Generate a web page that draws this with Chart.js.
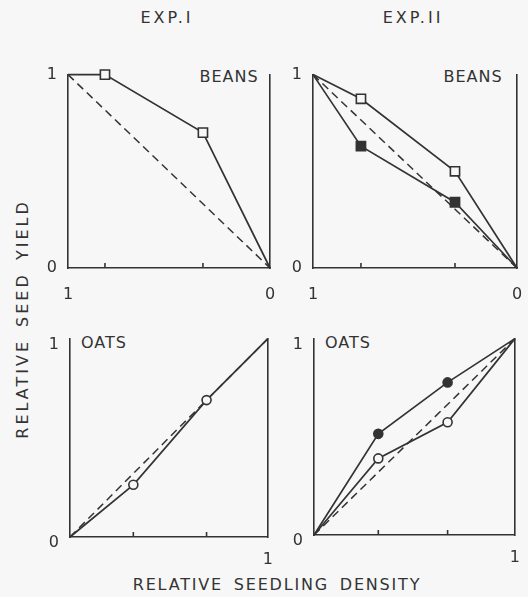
<!DOCTYPE html>
<html>
<head>
<meta charset="utf-8">
<title>Relative seed yield</title>
<script src="https://cdn.jsdelivr.net/npm/chart.js@4/dist/chart.umd.min.js"></script>
<style>
  body { margin: 0; background: #f7f7f7; width: 528px; height: 597px; position: relative; overflow: hidden;
         font-family: "DejaVu Sans", sans-serif; color: #333; }
  .box { position: absolute; }
  .lbl { position: absolute; font-size: 16px; letter-spacing: 1px; white-space: nowrap; line-height: 1;
         transform: translate(-50%, -50%); }
</style>
</head>
<body>
<div class="lbl" style="left:167px; top:18px; letter-spacing:3px;">EXP.I</div>
<div class="lbl" style="left:413px; top:18px; letter-spacing:3px;">EXP.II</div>
<div class="lbl" style="left:229px; top:77px;">BEANS</div>
<div class="lbl" style="left:473px; top:77px;">BEANS</div>
<div class="lbl" style="left:104px; top:343px;">OATS</div>
<div class="lbl" style="left:348px; top:343px;">OATS</div>
<div class="lbl" style="left:23px; top:319px; transform: translate(-50%, -50%) rotate(-90deg); letter-spacing:3px; word-spacing:4px;">RELATIVE SEED YIELD</div>
<div class="lbl" style="left:277px; top:585px; letter-spacing:1.8px; word-spacing:4px;">RELATIVE SEEDLING DENSITY</div>

<div class="box" id="p1"><canvas id="c1"></canvas></div>
<div class="box" id="p2"><canvas id="c2"></canvas></div>
<div class="box" id="p3"><canvas id="c3"></canvas></div>
<div class="box" id="p4"><canvas id="c4"></canvas></div>

<script>
// relative seedling density (x) and relative seed yield (y)
const beans1X = [1, 0.817, 0.332, 0];
const beans1Open = [1, 1.0, 0.70, 0];

const beans2X = [1, 0.765, 0.304, 0];
const beans2Open = [1, 0.875, 0.50, 0];
const beans2Filled = [1, 0.63, 0.34, 0];

const oats1X = [0, 0.32, 0.69, 1];
const oats1Open = [0, 0.263, 0.69, 1];

const oats2X = [0, 0.32, 0.665, 1];
const oats2Filled = [0, 0.515, 0.777, 1];
const oats2Open = [0, 0.39, 0.574, 1];

const ink = '#333';
const bg = '#f7f7f7';
const tickFont = { family: 'DejaVu Sans', size: 16 };

const pts = (xs, ys) => xs.map((x, i) => ({ x: x, y: ys[i] }));

// marker only on interior points, the end points sit on the corners
const markerSize = r => ctx => (ctx.dataIndex === 0 || ctx.dataIndex === 3) ? 0 : r;

function serie(xs, ys, style, filled) {
    const r = style === 'rect' ? 6.5 : 4.5;
    return {
        data: pts(xs, ys),
        showLine: true,
        borderColor: ink,
        borderWidth: 1.7,
        pointStyle: style,
        pointRadius: markerSize(r),
        pointBackgroundColor: filled ? ink : bg,
        pointBorderColor: ink,
        pointBorderWidth: 1.6,
        clip: false
    };
}

function diagonal(xs) {
    return {
        data: [{ x: xs[0], y: xs[0] }, { x: xs[3], y: xs[3] }],
        showLine: true,
        borderColor: ink,
        borderWidth: 1.5,
        borderDash: [8, 5],
        pointRadius: 0,
        clip: false
    };
}

// small tick marks standing inside the plot on the x axis
const innerTicks = {
    id: 'innerTicks',
    afterDraw(chart, args, opts) {
        const sx = chart.scales.x;
        const bottom = chart.chartArea.bottom;
        const ctx = chart.ctx;
        ctx.save();
        ctx.strokeStyle = ink;
        ctx.lineWidth = 1.6;
        opts.values.forEach(v => {
            const px = sx.getPixelForValue(v);
            ctx.beginPath();
            ctx.moveTo(px, bottom - 5);
            ctx.lineTo(px, bottom);
            ctx.stroke();
        });
        ctx.restore();
    }
};

function panel(id, canvasId, area, cfg) {
    const padL = 44, padR = 16, padT = 14, padB = 40;
    const wrap = document.getElementById(id);
    wrap.style.left = (area.l - padL) + 'px';
    wrap.style.top = (area.t - padT) + 'px';
    wrap.style.width = (area.r - area.l + padL + padR) + 'px';
    wrap.style.height = (area.b - area.t + padT + padB) + 'px';

    new Chart(document.getElementById(canvasId), {
        type: 'scatter',
        data: { datasets: cfg.datasets },
        options: {
            responsive: true,
            maintainAspectRatio: false,
            animation: false,
            layout: { padding: { top: padT, left: 0, right: 0, bottom: 0 } },
            plugins: {
                legend: { display: false },
                tooltip: { enabled: false },
                innerTicks: { values: cfg.tickValues }
            },
            scales: {
                x: {
                    type: 'linear',
                    position: 'bottom',
                    min: 0, max: 1,
                    reverse: cfg.reverse,
                    afterBuildTicks: s => { s.ticks = cfg.xLabels.map(v => ({ value: v })); },
                    afterFit: s => { s.height = padB; },
                    grid: { drawOnChartArea: false, drawTicks: false },
                    border: { color: ink, width: 1.6 },
                    ticks: { padding: cfg.xPad, color: ink, font: tickFont, maxRotation: 0, autoSkip: false,
                             callback: v => String(v) }
                },
                y: {
                    type: 'linear',
                    position: 'left',
                    min: 0, max: 1,
                    afterBuildTicks: s => { s.ticks = [{ value: 0 }, { value: 1 }]; },
                    afterFit: s => { s.width = padL; },
                    grid: { drawOnChartArea: false, drawTicks: false },
                    border: { color: ink, width: 1.6 },
                    ticks: { padding: 11, color: ink, font: tickFont, labelOffset: cfg.yOff,
                             callback: v => String(v) }
                },
                y2: {
                    type: 'linear',
                    position: 'right',
                    min: 0, max: 1,
                    afterFit: s => { s.width = padR; },
                    grid: { drawOnChartArea: false, drawTicks: false },
                    border: { color: ink, width: 1.6 },
                    ticks: { display: false }
                }
            }
        },
        plugins: [innerTicks]
    });
}

panel('p1', 'c1', { l: 68, t: 68, r: 270, b: 268 }, {
    reverse: true, xLabels: [0, 1], xPad: 17, yOff: 0,
    tickValues: [beans1X[1], beans1X[2]],
    datasets: [serie(beans1X, beans1Open, 'rect', false), diagonal(beans1X)]
});

panel('p2', 'c2', { l: 313, t: 68, r: 517, b: 268 }, {
    reverse: true, xLabels: [0, 1], xPad: 17, yOff: 0,
    tickValues: [beans2X[1], beans2X[2]],
    datasets: [serie(beans2X, beans2Open, 'rect', false), serie(beans2X, beans2Filled, 'rect', true), diagonal(beans2X)]
});

panel('p3', 'c3', { l: 70, t: 332, r: 270, b: 537 }, {
    reverse: false, xLabels: [1], xPad: 13, yOff: 6,
    tickValues: [oats1X[1], oats1X[2]],
    datasets: [serie(oats1X, oats1Open, 'circle', false), diagonal(oats1X)]
});

panel('p4', 'c4', { l: 314, t: 332, r: 517, b: 535 }, {
    reverse: false, xLabels: [1], xPad: 13, yOff: 6,
    tickValues: [oats2X[1], oats2X[2]],
    datasets: [serie(oats2X, oats2Filled, 'circle', true), serie(oats2X, oats2Open, 'circle', false), diagonal(oats2X)]
});
</script>
</body>
</html>
